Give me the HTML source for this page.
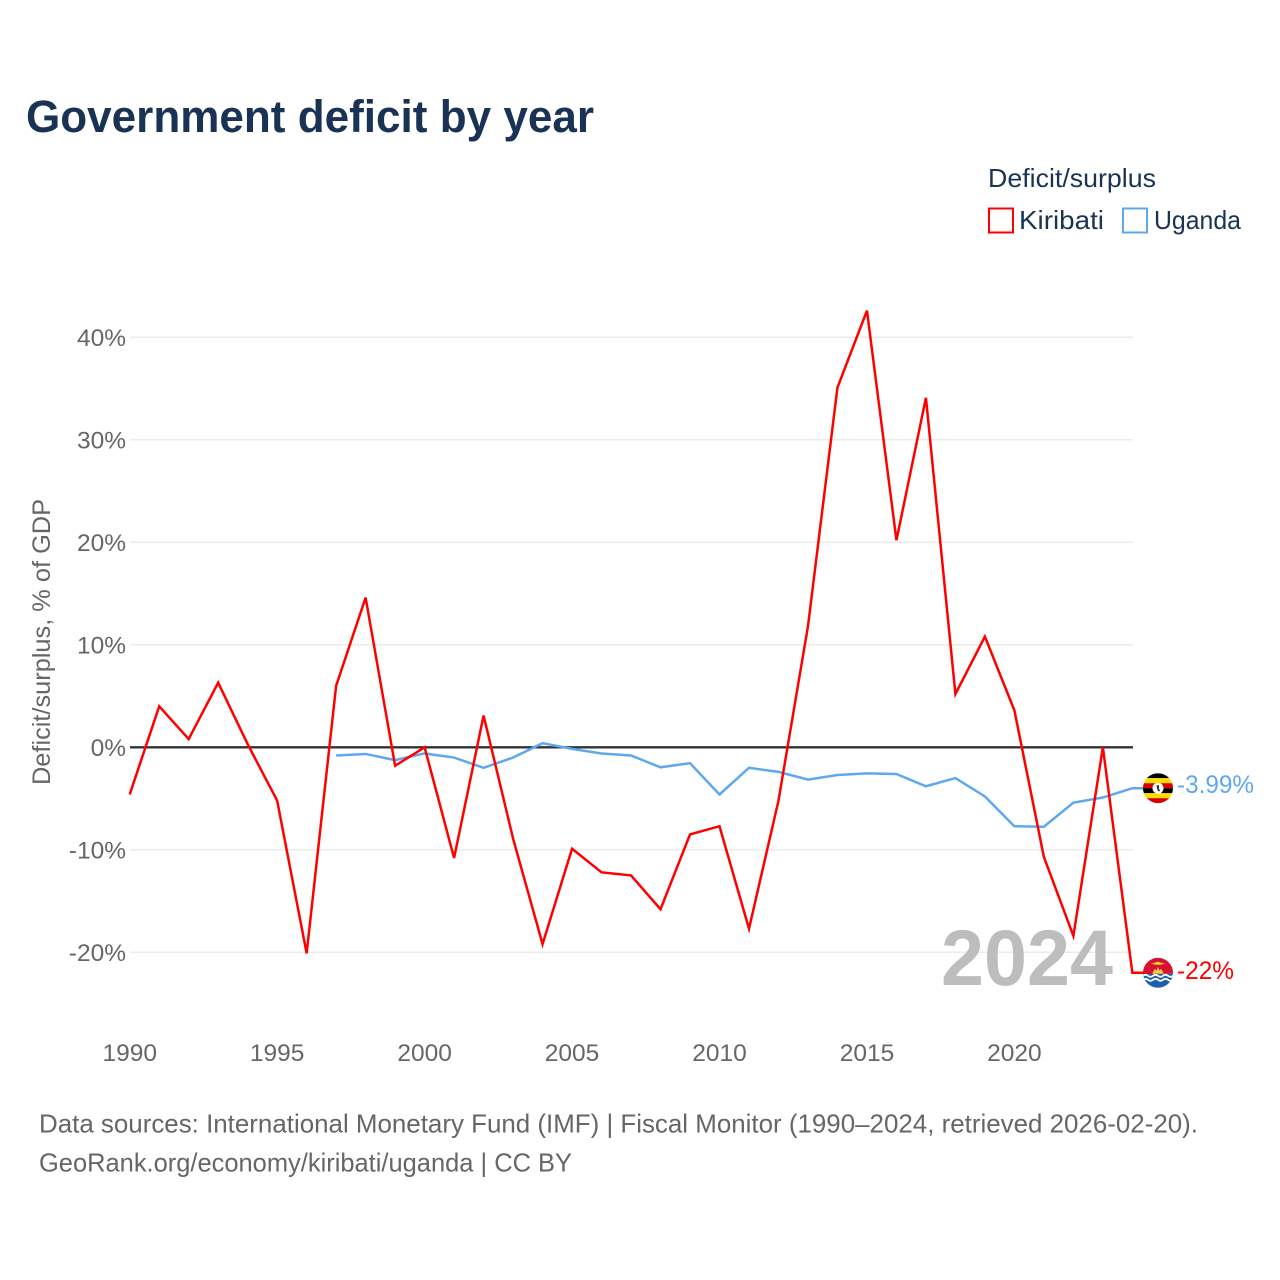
<!DOCTYPE html>
<html>
<head>
<meta charset="utf-8">
<title>Government deficit by year</title>
<style>
html,body{margin:0;padding:0;background:#fff;}
svg{display:block;font-family:"Liberation Sans",sans-serif;}
</style>
</head>
<body>
<svg id="chart" xmlns="http://www.w3.org/2000/svg" width="1280" height="1280" viewBox="0 0 1280 1280">
  <rect width="1280" height="1280" fill="#fff"/>
  <text x="26" y="132" font-size="45" font-weight="700" fill="#1a3355" textLength="568" lengthAdjust="spacingAndGlyphs">Government deficit by year</text>
  <text x="988" y="187" font-size="26" fill="#1a3355" textLength="168" lengthAdjust="spacingAndGlyphs">Deficit/surplus</text>
  <rect x="989" y="208.500" width="24" height="24" fill="#fff" stroke="#ff0000" stroke-width="2"/>
  <text x="1019" y="229" font-size="26" fill="#1a3355" textLength="85" lengthAdjust="spacingAndGlyphs">Kiribati</text>
  <rect x="1123" y="208.500" width="24" height="24" fill="#fff" stroke="#5fa8ee" stroke-width="2"/>
  <text x="1154" y="229" font-size="26" fill="#1a3355" textLength="87" lengthAdjust="spacingAndGlyphs">Uganda</text>
  <g id="grid"></g>
  <g id="yticks"></g>
  <g id="xticks"></g>
  <text transform="translate(50,642) rotate(-90)" text-anchor="middle" font-size="25" fill="#666666" textLength="286" lengthAdjust="spacingAndGlyphs">Deficit/surplus, % of GDP</text>
  <text x="1113" y="985" text-anchor="end" font-size="79" font-weight="700" fill="#bdbdbd" textLength="172" lengthAdjust="spacingAndGlyphs">2024</text>
  <line id="zero" stroke="#333333" stroke-width="2.400"/>
  <polyline id="line-uganda" fill="none" stroke="#5fa8ee" stroke-width="2.500" stroke-linejoin="miter"/>
  <polyline id="line-kiribati" fill="none" stroke="#ff0000" stroke-width="2.500" stroke-linejoin="miter"/>
  <defs>
    <clipPath id="clip-ug"><circle cx="0" cy="0" r="15"/></clipPath>
    <clipPath id="clip-ki"><circle cx="0" cy="0" r="15"/></clipPath>
  </defs>
  <g id="flag-uganda">
    <g clip-path="url(#clip-ug)">
      <rect x="-15" y="-15" width="30" height="5" fill="#000"/>
      <rect x="-15" y="-10" width="30" height="5" fill="#fcdc04"/>
      <rect x="-15" y="-5" width="30" height="5" fill="#d90000"/>
      <rect x="-15" y="0" width="30" height="5" fill="#000"/>
      <rect x="-15" y="5" width="30" height="5" fill="#fcdc04"/>
      <rect x="-15" y="10" width="30" height="5" fill="#d90000"/>
      <circle cx="0" cy="0" r="5.500" fill="#fff"/>
      <path d="M-1.500 -3 L1 -3 L1 0 L2 3 L0 3 L-1 0 Z" fill="#333"/>
    </g>
  </g>
  <g id="flag-kiribati">
    <g clip-path="url(#clip-ki)">
      <rect x="-15" y="-15" width="30" height="16" fill="#d8112f"/>
      <path d="M-7 -9 L0 -11 L7 -9 L2 -8 L-2 -8 Z" fill="#f8d048"/>
      <path d="M-6 1 L-3 -4 L-1.500 -2 L0 -6 L1.500 -2 L3 -4 L6 1 Z" fill="#f8c848"/>
      <rect x="-15" y="1" width="30" height="14" fill="#1f5fb0"/>
      <path d="M-15 3 q2.500 -2 5 0 t5 0 t5 0 t5 0 t5 0 t5 0" fill="none" stroke="#fff" stroke-width="1.800"/>
      <path d="M-15 7 q2.500 -2 5 0 t5 0 t5 0 t5 0 t5 0 t5 0" fill="none" stroke="#fff" stroke-width="1.800"/>
    </g>
  </g>
  <text id="label-uganda" x="1177" font-size="25" fill="#5fa8ee" textLength="77" lengthAdjust="spacingAndGlyphs"></text>
  <text id="label-kiribati" x="1177" font-size="25" fill="#ff0000" textLength="57" lengthAdjust="spacingAndGlyphs"></text>
  <text x="39" y="1132.500" font-size="26" fill="#666666" textLength="1159" lengthAdjust="spacingAndGlyphs">Data sources: International Monetary Fund (IMF) | Fiscal Monitor (1990–2024, retrieved 2026-02-20).</text>
  <text x="39" y="1171.500" font-size="26" fill="#666666" textLength="533" lengthAdjust="spacingAndGlyphs">GeoRank.org/economy/kiribati/uganda | CC BY</text>
</svg>
<script>
const kiribatiYears = [1990,1991,1992,1993,1994,1995,1996,1997,1998,1999,2000,2001,2002,2003,2004,2005,2006,2007,2008,2009,2010,2011,2012,2013,2014,2015,2016,2017,2018,2019,2020,2021,2022,2023,2024];
const kiribatiValues = [-4.6,4.0,0.8,6.3,0.3,-5.2,-20.1,6.0,14.6,-1.8,0,-10.8,3.1,-8.9,-19.2,-9.9,-12.2,-12.5,-15.8,-8.5,-7.7,-17.7,-5.2,11.8,35.1,42.6,20.2,34.1,5.2,10.8,3.6,-10.7,-18.4,0,-22];
const ugandaYears = [1997,1998,1999,2000,2001,2002,2003,2004,2005,2006,2007,2008,2009,2010,2011,2012,2013,2014,2015,2016,2017,2018,2019,2020,2021,2022,2023,2024];
const ugandaValues = [-0.8,-0.65,-1.25,-0.6,-1.0,-2.0,-1.0,0.4,-0.15,-0.6,-0.8,-1.95,-1.55,-4.6,-2.0,-2.4,-3.15,-2.7,-2.55,-2.6,-3.8,-3.0,-4.8,-7.7,-7.75,-5.4,-4.9,-3.99];
const yTickValues = [40,30,20,10,0,-10,-20];
const xTickValues = [1990,1995,2000,2005,2010,2015,2020];
const xScale = function (year) { return 129.700 + (year - 1990) * 29.490; };
const yScale = function (v) { return 747.300 - v * 10.250; };
const NS = 'http://www.w3.org/2000/svg';
const gridGroup = document.getElementById('grid');
const yGroup = document.getElementById('yticks');
const xGroup = document.getElementById('xticks');
yTickValues.forEach(function (v) {
  if (v !== 0) {
    const gl = document.createElementNS(NS, 'line');
    
    
    gl.setAttribute('x1', 130);
    gl.setAttribute('x2', 1133);
    gl.setAttribute('y1', yScale(v));
    gl.setAttribute('y2', yScale(v));
    gl.setAttribute('stroke', '#ebebeb');
    gl.setAttribute('stroke-width', '1.500');
    gridGroup.appendChild(gl);
  }
  const t = document.createElementNS(NS, 'text');
  
  
  t.setAttribute('x', 126);
  t.setAttribute('y', yScale(v) + 8.500);
  t.setAttribute('text-anchor', 'end');
  t.setAttribute('font-size', '24.500');
  t.setAttribute('fill', '#666666');
  t.textContent = v + '%';
  yGroup.appendChild(t);
});
xTickValues.forEach(function (year) {
  const t = document.createElementNS(NS, 'text');
  
  
  t.setAttribute('x', xScale(year));
  t.setAttribute('y', 1061);
  t.setAttribute('text-anchor', 'middle');
  t.setAttribute('font-size', '24.500');
  t.setAttribute('fill', '#666666');
  t.textContent = String(year);
  xGroup.appendChild(t);
});
const zero = document.getElementById('zero');
zero.setAttribute('x1', 130);
zero.setAttribute('x2', 1133);
zero.setAttribute('y1', yScale(0));
zero.setAttribute('y2', yScale(0));
const toPoints = function (years, values) {
  return years.map(function (year, i) { return xScale(year) + ',' + yScale(values[i]); }).join(' ');
};
const lastK = kiribatiValues[kiribatiValues.length - 1];
const lastU = ugandaValues[ugandaValues.length - 1];
const endX = 1158;
document.getElementById('line-kiribati').setAttribute('points', toPoints(kiribatiYears, kiribatiValues) + ' ' + endX + ',' + yScale(lastK));
document.getElementById('line-uganda').setAttribute('points', toPoints(ugandaYears, ugandaValues) + ' ' + endX + ',' + yScale(lastU));
document.getElementById('flag-kiribati').setAttribute('transform', 'translate(' + endX + ',' + yScale(lastK) + ')');
document.getElementById('flag-uganda').setAttribute('transform', 'translate(' + endX + ',' + yScale(lastU) + ')');
const labelK = document.getElementById('label-kiribati');
labelK.setAttribute('y', yScale(lastK) + 6);
labelK.textContent = lastK + '%';
const labelU = document.getElementById('label-uganda');
labelU.setAttribute('y', yScale(lastU) + 5);
labelU.textContent = lastU + '%';
</script>
</body>
</html>
